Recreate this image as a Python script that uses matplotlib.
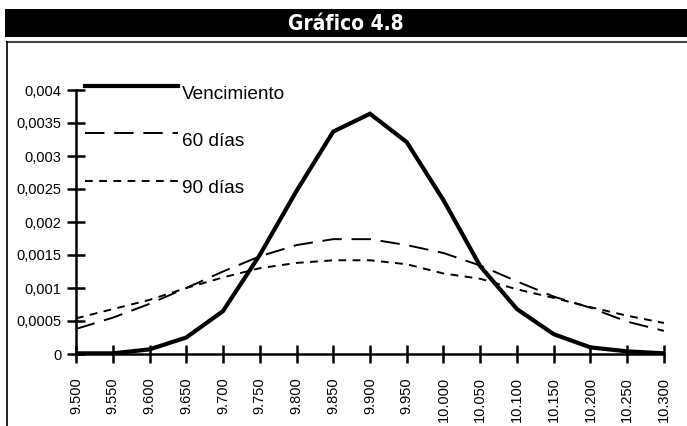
import matplotlib
matplotlib.use("Agg")
import numpy as np
import matplotlib.pyplot as plt
from matplotlib.lines import Line2D
from matplotlib.patches import Rectangle
from matplotlib.legend_handler import HandlerLine2D

x_values = [9.500, 9.550, 9.600, 9.650, 9.700, 9.750, 9.800, 9.850, 9.900,
            9.950, 10.000, 10.050, 10.100, 10.150, 10.200, 10.250, 10.300]
x_labels = ["9.500", "9.550", "9.600", "9.650", "9.700", "9.750", "9.800", "9.850",
            "9.900", "9.950", "10.000", "10.050", "10.100", "10.150", "10.200",
            "10.250", "10.300"]
vencimiento = [0.00001, 0.00001, 0.00007, 0.00025, 0.00065, 0.0015, 0.00247, 0.00337,
               0.00364, 0.00321, 0.00233, 0.00133, 0.00068, 0.0003, 0.0001, 0.00004, 0.00001]
dias60 = [0.00038, 0.00055, 0.00076, 0.001, 0.00125, 0.00148, 0.00165, 0.00174,
          0.00174, 0.00165, 0.00153, 0.00134, 0.0011, 0.00087, 0.0007, 0.00049, 0.00035]
dias90 = [0.00054, 0.00068, 0.00082, 0.001, 0.00116, 0.0013, 0.00138, 0.00142,
          0.00142, 0.00136, 0.00122, 0.00114, 0.00098, 0.00085, 0.00071, 0.00058, 0.00047]
y_ticks = [0, 0.0005, 0.001, 0.0015, 0.002, 0.0025, 0.003, 0.0035, 0.004]
y_labels = ["0", "0,0005", "0,001", "0,0015", "0,002", "0,0025", "0,003", "0,0035", "0,004"]
title = "Gráfico 4.8"
series_names = ["Vencimiento", "60 días", "90 días"]


class RaisedLineHandler(HandlerLine2D):
    """Legend line drawn a little above the label's centre, as in the original."""
    def __init__(self, lift, **kw):
        super().__init__(**kw)
        self.lift = lift

    def create_artists(self, legend, orig_handle, xdescent, ydescent, width, height,
                       fontsize, trans):
        arts = super().create_artists(legend, orig_handle, xdescent, ydescent, width,
                                      height, fontsize, trans)
        for a in arts:
            a.set_ydata(np.asarray(a.get_ydata(), dtype=float) + self.lift)
        return arts


W, H = 687, 426
fig = plt.figure(figsize=(W / 100, H / 100), dpi=100)
fig.patch.set_facecolor("white")

# Title bar
fig.patches.append(Rectangle((5 / W, 1 - 37 / H), 1 - 5 / W, 28 / H, transform=fig.transFigure,
                             facecolor="black", edgecolor="none"))
fig.text(0.5 + 2.5 / W, 1 - 23.5 / H, title, color="white", ha="center", va="center",
         fontsize=15, fontweight="heavy", fontstretch="condensed",
         family=["DejaVu Sans"])
# Frame lines
fig.add_artist(Line2D([6.5 / W, 1], [1 - 42 / H, 1 - 42 / H], transform=fig.transFigure,
                      color="#444444", lw=1.5))
fig.add_artist(Line2D([7 / W, 7 / W], [0, 1 - 42 / H], transform=fig.transFigure,
                      color="black", lw=1.2))

ax = fig.add_axes([76 / W, 1 - 354 / H, (664 - 76) / W, (354 - 90) / H])
l1, = ax.plot(x_values, vencimiento, color="black", lw=3.0, solid_joinstyle="miter")
l2, = ax.plot(x_values, dias60, color="black", lw=1.4, dashes=(10, 5))
l3, = ax.plot(x_values, dias90, color="black", lw=1.4, dashes=(4, 3.3))

ax.set_xlim(9.5, 10.3)
ax.set_ylim(0, 0.004)
ax.set_xticks(x_values)
ax.set_xticklabels(x_labels, rotation=90, family="Liberation Sans", fontsize=10.5)
ax.set_yticks(y_ticks)
ax.set_yticklabels(y_labels, family="Liberation Sans", fontsize=10.5)
ax.tick_params(axis="both", direction="inout", length=13, width=1.8, color="black")
ax.tick_params(axis="y", pad=4)
ax.tick_params(axis="x", pad=10)
for s in ["top", "right"]:
    ax.spines[s].set_visible(False)
for s in ["left", "bottom"]:
    ax.spines[s].set_linewidth(1.8)
ax.set_facecolor("none")

hm = {l: RaisedLineHandler(lift=4.5) for l in (l1, l2, l3)}
leg = ax.legend([l1, l2, l3], series_names, loc="upper left", bbox_to_anchor=(9 / 588, 1.016),
                frameon=False, handlelength=4.9, handletextpad=0.2, labelspacing=1.57,
                prop={"family": "Liberation Sans", "size": 13.7}, borderaxespad=0,
                borderpad=0, handler_map=hm)

fig.savefig("out.png", dpi=100)
